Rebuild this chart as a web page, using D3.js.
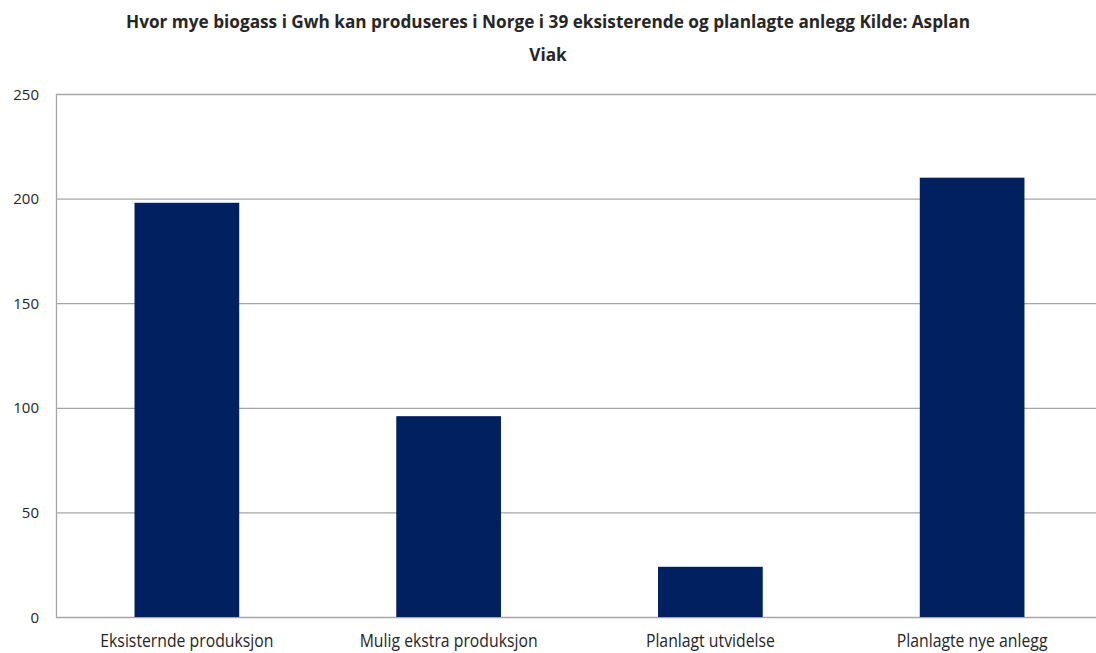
<!DOCTYPE html>
<html><head><meta charset="utf-8">
<script src="https://cdn.jsdelivr.net/npm/d3@7"></script>
<style>
body{margin:0;background:#fff;}
text{font-family:"Open Sans","DejaVu Sans",sans-serif;}
</style></head>
<body><svg id="c" width="1096" height="653"></svg>
<script>
const categories=["Eksisternde produksjon","Mulig ekstra produksjon","Planlagt utvidelse","Planlagte nye anlegg"];
const values=[198,96,24,210];
const yTicks=[0,50,100,150,200,250];
const titleLines=["Hvor mye biogass i Gwh kan produseres i Norge i 39 eksisterende og planlagte anlegg Kilde: Asplan","Viak"];

const svg=d3.select("#c");
const m={l:56,r:1103,t:94,b:617};
const x=d3.scaleBand().domain(categories).range([m.l,m.r]).paddingInner(0.6).paddingOuter(0.3);
const y=d3.scaleLinear().domain([0,250]).range([m.b,m.t]);

svg.append("g").selectAll("line").data(yTicks).join("line")
 .attr("x1",m.l).attr("x2",m.r).attr("y1",d=>y(d)+0.5).attr("y2",d=>y(d)+0.5)
 .attr("stroke","#a6a6a6").attr("stroke-width",1.3);
svg.append("line").attr("x1",m.l+0.5).attr("x2",m.l+0.5).attr("y1",m.t).attr("y2",m.b+0.5)
 .attr("stroke","#a6a6a6").attr("stroke-width",1.3);

svg.append("g").selectAll("rect").data(values).join("rect")
 .attr("x",(d,i)=>x(categories[i])).attr("width",x.bandwidth())
 .attr("y",d=>y(d)).attr("height",d=>y(0)-y(d)).attr("fill","#002060");

svg.append("g").selectAll("text").data(yTicks).join("text")
 .attr("x",39).attr("y",d=>y(d)+5.5).attr("text-anchor","end")
 .attr("font-size",15).attr("fill","#262626").text(d=>d);

const catText=svg.append("g").selectAll("text").data(categories).join("text")
 .attr("x",d=>x(d)+x.bandwidth()/2).attr("y",647).attr("text-anchor","middle")
 .attr("font-size",19).attr("fill","#262626").text(d=>d);
catText.each(function(){const w=this.getComputedTextLength();this.setAttribute("textLength",w*0.83);this.setAttribute("lengthAdjust","spacingAndGlyphs");});

const tt=svg.append("g").selectAll("text").data(titleLines).join("text")
 .attr("x",548).attr("y",(d,i)=>28+i*33).attr("text-anchor","middle")
 .attr("font-size",18).attr("font-weight","bold").attr("fill","#262626").text(d=>d);
const w0=tt.nodes()[0].getComputedTextLength();
const sc=844/w0;
tt.each(function(){const w=this.getComputedTextLength();this.setAttribute("textLength",w*sc);this.setAttribute("lengthAdjust","spacingAndGlyphs");});
</script></body></html>
